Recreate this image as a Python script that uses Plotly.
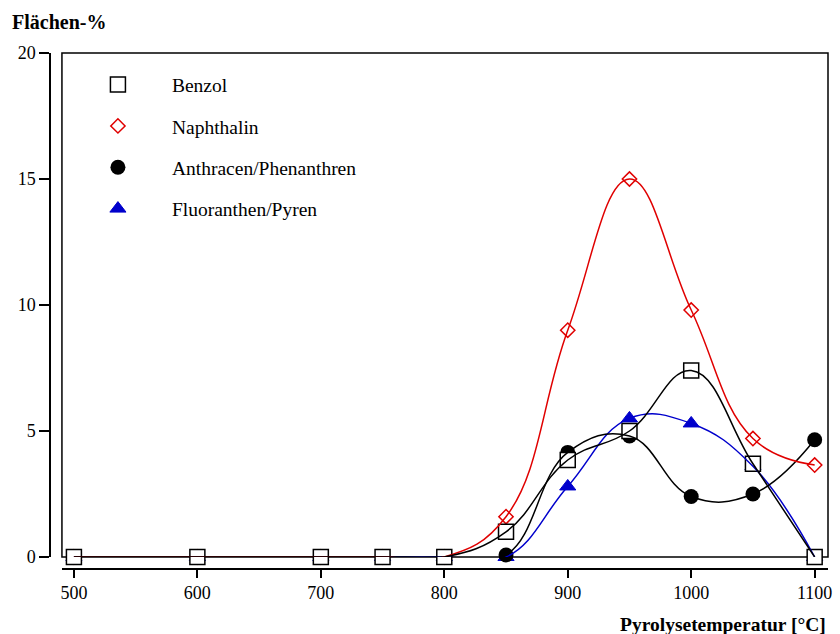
import plotly.graph_objects as go

temps = [500, 600, 700, 750, 800, 850, 900, 950, 1000, 1050, 1100]
benzol = [0, 0, 0, 0, 0, 1.0, 3.85, 5.0, 7.4, 3.7, 0.0]
naphthalin = [0, 0, 0, 0, 0, 1.6, 9.0, 15.0, 9.8, 4.7, 3.65]
anthracen = [0, 0, 0, 0, 0, 0.08, 4.15, 4.8, 2.4, 2.5, 4.65]
fluoranthen = [0, 0, 0, 0, 0, 0.0, 2.8, 5.5, 5.3, 3.6, 0.0]

series = [
    ("Fluoranthen/Pyren", fluoranthen, "#0000cc", dict(symbol="triangle-up", size=14, color="#0000cc", line=dict(width=1, color="#0000cc"))),
    ("Anthracen/Phenanthren", anthracen, "black", dict(symbol="circle", size=15, color="black", line=dict(width=0))),
    ("Naphthalin", naphthalin, "#e00000", dict(symbol="diamond-open", size=11, color="#e00000", line=dict(width=1.5, color="#e00000"))),
    ("Benzol", benzol, "black", dict(symbol="square", size=15, color="white", line=dict(width=1.5, color="black"))),
]
ranks = {"Benzol": 1, "Naphthalin": 2, "Anthracen/Phenanthren": 3, "Fluoranthen/Pyren": 4}

FONT = "Liberation Serif"
fig = go.Figure()
# markers (below lines)
for name, vals, col, mk in series:
    fig.add_trace(go.Scatter(x=temps, y=vals, mode="markers", name=name, marker=mk,
                             legendrank=ranks[name], legendgroup=name, cliponaxis=False))
# smooth lines on top
for name, vals, col, mk in series:
    fig.add_trace(go.Scatter(x=temps, y=vals, mode="lines", showlegend=False,
                             line=dict(color=col, width=1.5, shape="spline", smoothing=1.2),
                             cliponaxis=False, hoverinfo="skip"))

W, H = 840, 634
L, R, T, B = 50, 8, 53, 65
pw, ph = W - L - R, H - T - B

fig.update_layout(
    width=W, height=H,
    margin=dict(l=L, r=R, t=T, b=B),
    paper_bgcolor="white", plot_bgcolor="white",
    font=dict(family=FONT, size=18, color="black"),
    showlegend=True,
    legend=dict(x=14 / pw, y=0.976, xanchor="left", yanchor="top",
                font=dict(family=FONT, size=19.5), itemwidth=98,
                tracegroupgap=13, bgcolor="rgba(0,0,0,0)"),
    xaxis=dict(domain=[12 / pw, 1], range=[490.3, 1110.8], anchor="free", position=0,
               showgrid=False, zeroline=False, showline=True, linecolor="black", linewidth=1.5,
               ticks="outside", ticklen=8, tickwidth=1.5, tickcolor="black",
               tickvals=[500, 600, 700, 800, 900, 1000, 1100],
               tickfont=dict(family=FONT, size=18)),
    yaxis=dict(domain=[12 / ph, 1], range=[0, 20], anchor="free", position=0,
               showgrid=False, zeroline=False, showline=True, linecolor="black", linewidth=1.5,
               ticks="outside", ticklen=10, tickwidth=1.5, tickcolor="black",
               tickvals=[0, 5, 10, 15, 20],
               tickfont=dict(family=FONT, size=18)),
    shapes=[dict(type="rect", xref="x domain", yref="y domain", x0=0, x1=1, y0=0, y1=1,
                 line=dict(color="black", width=1.5), layer="below")],
    annotations=[
        dict(text="<b>Flächen-%</b>", xref="paper", yref="paper", x=-40 / pw, y=1 + 31 / ph,
             xanchor="left", yanchor="middle", showarrow=False, font=dict(family=FONT, size=20)),
        dict(text="<b>Pyrolysetemperatur [°C]</b>", xref="paper", yref="paper", x=1, y=-55 / ph,
             xanchor="right", yanchor="middle", showarrow=False, font=dict(family=FONT, size=19.5)),
    ],
)
fig.write_html("out.html")
